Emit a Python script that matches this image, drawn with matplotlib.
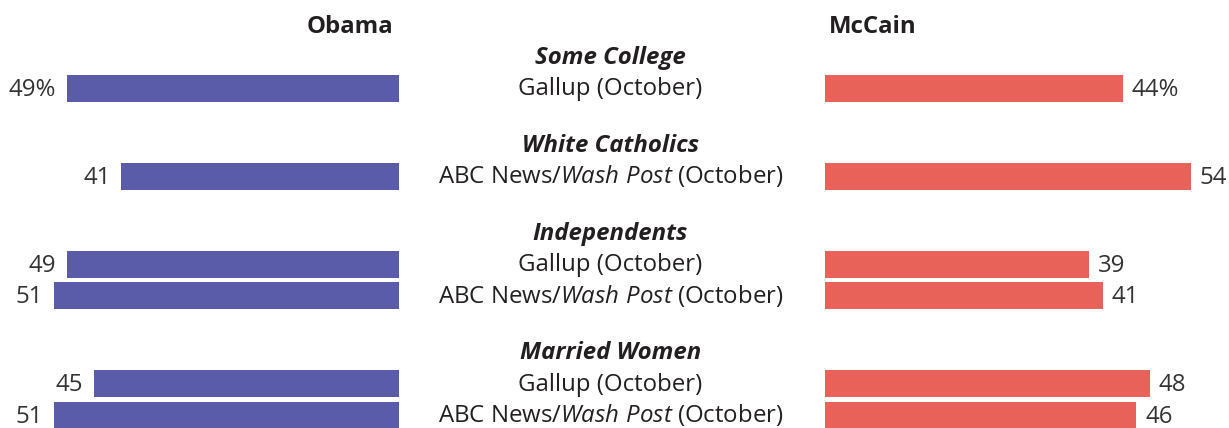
"""Obama vs McCain support by group, two-sided bar chart."""

import matplotlib

matplotlib.use("Agg")
import matplotlib.pyplot as plt

plt.rcParams["font.family"] = ["Open Sans", "DejaVu Sans"]
plt.rcParams["mathtext.fontset"] = "custom"
plt.rcParams["mathtext.rm"] = "Open Sans"
plt.rcParams["mathtext.it"] = "Open Sans:italic"
plt.rcParams["mathtext.bf"] = "Open Sans:bold"

# data
groups = ["Some College", "White Catholics", "Independents", "Married Women"]
row_group = [0, 1, 2, 2, 3, 3]
row_poll = [
    "Gallup (October)",
    r"ABC News/$\mathit{Wash\ Post}$ (October)",
    "Gallup (October)",
    r"ABC News/$\mathit{Wash\ Post}$ (October)",
    "Gallup (October)",
    r"ABC News/$\mathit{Wash\ Post}$ (October)",
]
obama = [49, 41, 49, 51, 45, 51]
mccain = [44, 54, 39, 41, 48, 46]

# layout (pixels)
W, H = 1229, 428
PX = 6.77          # pixels per percentage point
ZERO_L = 399       # Obama bars end here
ZERO_R = 825       # McCain bars start here
BAR_H = 27
CAP = 17.5         # cap height of the text
FS = 17.3
TEXT = "#231f20"
BLUE = "#5a5ca9"
RED = "#e8625a"


def row_positions():
    """y of each group header and each poll row."""

    header_ys, row_ys = [], []
    y = 55
    for g in range(len(groups)):
        if g:
            y = row_ys[-1] + 55
        header_ys.append(y)
        for i in range(row_group.count(g)):
            row_ys.append(y + 33 + 31.5 * i)
    return header_ys, row_ys


def put(ax, x, y, s, dx=0, dy=0, ha="center", **kw):
    """Text whose cap height is centred on y (dy moves it up)."""

    ax.annotate(s, xy=(x, y), xytext=(dx, dy - CAP / 2), textcoords="offset pixels",
                ha=ha, va="baseline", fontsize=kw.pop("fontsize", FS),
                color=kw.pop("color", TEXT), **kw)


def main() -> None:
    header_ys, row_ys = row_positions()

    fig = plt.figure(figsize=(W / 100, H / 100), dpi=100)
    ax_l = fig.add_axes([0, 0, ZERO_L / W, 1])
    ax_m = fig.add_axes([ZERO_L / W, 0, (ZERO_R - ZERO_L) / W, 1])
    ax_r = fig.add_axes([ZERO_R / W, 0, (W - ZERO_R) / W, 1])
    ax_l.set_xlim(ZERO_L / PX, 0)
    ax_r.set_xlim(0, (W - ZERO_R) / PX)
    ax_m.set_xlim(0, 1)
    for ax in (ax_l, ax_m, ax_r):
        ax.set_ylim(H, 0)
        ax.axis("off")

    ax_l.barh(row_ys, obama, height=BAR_H, color=BLUE)
    ax_r.barh(row_ys, mccain, height=BAR_H, color=RED)

    for i, (y, ob, mc) in enumerate(zip(row_ys, obama, mccain)):
        suffix = "%" if i == 0 else ""
        put(ax_l, ob, y, f"{ob}{suffix}", dx=-11, dy=1, ha="right", color="#333333")
        put(ax_r, mc, y, f"{mc}{suffix}", dx=9, dy=1, ha="left", color="#333333")
        put(ax_m, 0.496, y, row_poll[i], dy=1.5)

    for y, name in zip(header_ys, groups):
        put(ax_m, 0.496, y, name, fontweight="bold", fontstyle="italic")

    put(ax_l, 0, 24, "Obama", dx=-6, ha="right", fontweight="bold")
    put(ax_r, 0, 24, "McCain", dx=4, ha="left", fontweight="bold")

    fig.savefig("out.png", dpi=100)
    plt.close(fig)


if __name__ == "__main__":
    main()
